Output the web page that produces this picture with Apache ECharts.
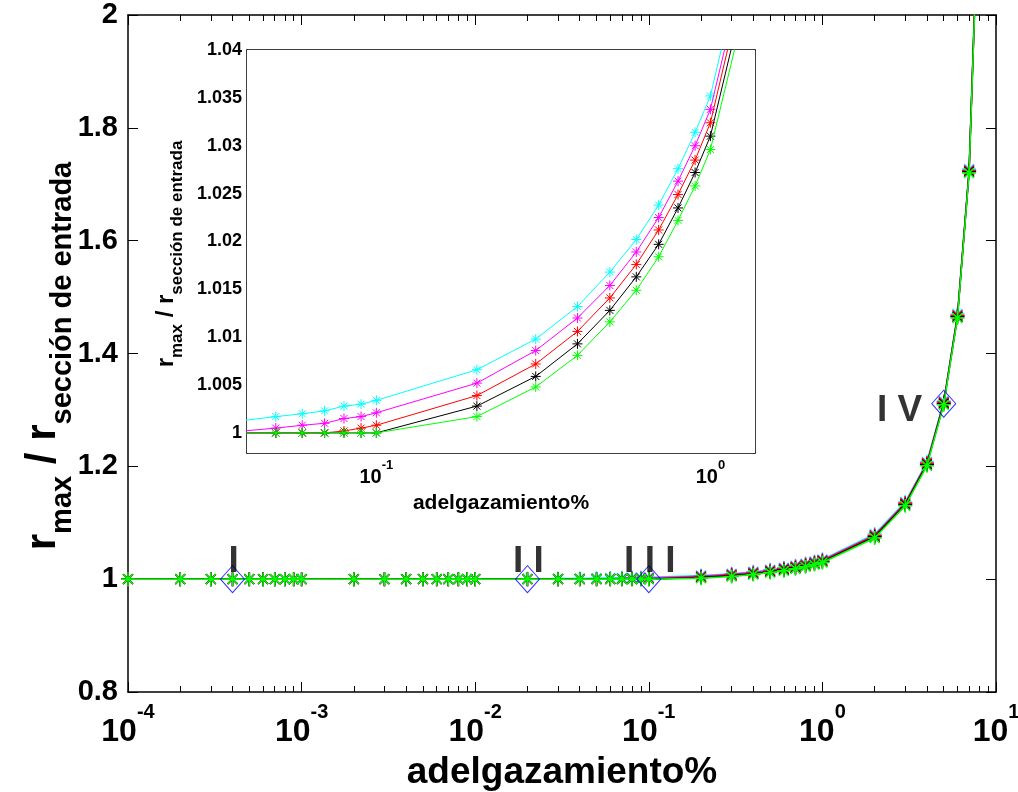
<!DOCTYPE html>
<html>
<head>
<meta charset="utf-8">
<script src="https://cdn.jsdelivr.net/npm/echarts@6/dist/echarts.min.js"></script>
<style>
  html, body { margin: 0; padding: 0; background: #fff; }
  #chart { width: 1018px; height: 792px; }
</style>
</head>
<body>
<div id="chart"></div>
<script>
// adelgazamiento (%) sample points
const xValues = [
  0.0001, 0.0002, 0.0003, 0.0004, 0.0005, 0.0006, 0.0007, 0.0008, 0.0009,
  0.001, 0.002, 0.003, 0.004, 0.005, 0.006, 0.007, 0.008, 0.009,
  0.01, 0.02, 0.03, 0.04, 0.05, 0.06, 0.07, 0.08, 0.09,
  0.1, 0.2, 0.3, 0.4, 0.5, 0.6, 0.7, 0.8, 0.9,
  1, 2, 3, 4, 5, 6, 7, 8
];

// r_max / r_entrada for each of the five cases
const cyanValues = [
  1.0000, 1.0000, 1.0000, 1.0000, 1.0000, 1.0000, 1.0000, 1.0000, 1.0000,
  1.0000, 1.0001, 1.0001, 1.0001, 1.0002, 1.0002, 1.0002, 1.0003, 1.0003,
  1.0003, 1.0007, 1.0010, 1.0013, 1.0017, 1.0020, 1.0023, 1.0028, 1.0030,
  1.0034, 1.0066, 1.0098, 1.0132, 1.0168, 1.0202, 1.0238, 1.0276, 1.0314,
  1.0352, 1.080, 1.137, 1.208, 1.316, 1.470, 1.727, 2.26
];
const magentaValues = [
  1.0000, 1.0000, 1.0000, 1.0000, 1.0000, 1.0000, 1.0000, 1.0000, 1.0000,
  1.0000, 1.0000, 1.0000, 1.0000, 1.0000, 1.0000, 1.0000, 1.0000, 1.0000,
  1.0000, 1.0000, 1.0000, 1.0002, 1.0005, 1.0008, 1.0010, 1.0015, 1.0017,
  1.0021, 1.0052, 1.0086, 1.0120, 1.0154, 1.0189, 1.0225, 1.0263, 1.0300,
  1.0338, 1.078, 1.135, 1.206, 1.314, 1.468, 1.725, 2.255
];
const redValues = [
  1.0000, 1.0000, 1.0000, 1.0000, 1.0000, 1.0000, 1.0000, 1.0000, 1.0000,
  1.0000, 1.0000, 1.0000, 1.0000, 1.0000, 1.0000, 1.0000, 1.0000, 1.0000,
  1.0000, 1.0000, 1.0000, 1.0000, 1.0000, 1.0000, 1.0000, 1.0002, 1.0005,
  1.0008, 1.0039, 1.0072, 1.0106, 1.0141, 1.0176, 1.0212, 1.0249, 1.0285,
  1.0324, 1.077, 1.134, 1.205, 1.313, 1.467, 1.724, 2.25
];
const blackValues = [
  1.0000, 1.0000, 1.0000, 1.0000, 1.0000, 1.0000, 1.0000, 1.0000, 1.0000,
  1.0000, 1.0000, 1.0000, 1.0000, 1.0000, 1.0000, 1.0000, 1.0000, 1.0000,
  1.0000, 1.0000, 1.0000, 1.0000, 1.0000, 1.0000, 1.0000, 1.0000, 1.0000,
  1.0000, 1.0028, 1.0059, 1.0093, 1.0128, 1.0163, 1.0197, 1.0235, 1.0272,
  1.0310, 1.075, 1.132, 1.203, 1.311, 1.465, 1.722, 2.245
];
const greenValues = [
  1.0000, 1.0000, 1.0000, 1.0000, 1.0000, 1.0000, 1.0000, 1.0000, 1.0000,
  1.0000, 1.0000, 1.0000, 1.0000, 1.0000, 1.0000, 1.0000, 1.0000, 1.0000,
  1.0000, 1.0000, 1.0000, 1.0000, 1.0000, 1.0000, 1.0000, 1.0000, 1.0000,
  1.0000, 1.0017, 1.0048, 1.0081, 1.0116, 1.0149, 1.0184, 1.0222, 1.0258,
  1.0296, 1.073, 1.130, 1.201, 1.309, 1.463, 1.720, 2.24
];

// highlighted regimes
const regimeX = [0.0004, 0.02, 0.1, 5];
const regimeY = [1.0, 1.0, 1.0, 1.311];
const regimeLabels = ['I', 'I I', 'I I I', 'I V'];

// axis ticks
const mainXTicks = [1e-4, 1e-3, 1e-2, 1e-1, 1, 10];
const mainXMinorTicks = [
  2e-4, 3e-4, 4e-4, 5e-4, 6e-4, 7e-4, 8e-4, 9e-4,
  2e-3, 3e-3, 4e-3, 5e-3, 6e-3, 7e-3, 8e-3, 9e-3,
  2e-2, 3e-2, 4e-2, 5e-2, 6e-2, 7e-2, 8e-2, 9e-2,
  0.2, 0.3, 0.4, 0.5, 0.6, 0.7, 0.8, 0.9,
  2, 3, 4, 5, 6, 7, 8, 9
];
const mainYTicks = [0.8, 1, 1.2, 1.4, 1.6, 1.8, 2];
const mainYTickLabels = ['0.8', '1', '1.2', '1.4', '1.6', '1.8', '2'];
const insetXTicks = [0.1, 1];
const insetXMinorTicks = [0.05, 0.06, 0.07, 0.08, 0.09, 0.2, 0.3, 0.4, 0.5, 0.6, 0.7, 0.8, 0.9];
const insetYTicks = [1, 1.005, 1.01, 1.015, 1.02, 1.025, 1.03, 1.035, 1.04];
const insetYTickLabels = ['1', '1.005', '1.01', '1.015', '1.02', '1.025', '1.03', '1.035', '1.04'];

const FONT = '"Liberation Sans", Helvetica, Arial, sans-serif';
const seriesColors = ['#00ffff', '#ff00ff', '#ff0000', '#000000', '#00ff00'];
const seriesValues = [cyanValues, magentaValues, redValues, blackValues, greenValues];

// asterisk marker outline (stroked, not filled)
const ASTERISK = 'path://M10 0L10 20M0 10L20 10M3 3L17 17M3 17L17 3';

function pairs(ys) { return xValues.map((x, i) => [x, ys[i]]); }

function powLabel(v) {
  const e = Math.round(Math.log10(v));
  return '{b|10}{s|' + e + '}';
}

const chart = echarts.init(document.getElementById('chart'), null, { renderer: 'canvas' });

function xAxisSet(gridIndex, min, max, majors, minors, majorLen, minorLen, lw, labelOpt, nameOpt) {
  const common = { type: 'log', logBase: 10, gridIndex, min, max, splitLine: { show: false } };
  return [
    Object.assign({}, common, {
      position: 'bottom',
      axisLine: { show: true, onZero: false, lineStyle: { color: '#000', width: lw } },
      axisTick: { show: true, inside: true, length: minorLen, customValues: minors, lineStyle: { color: '#000', width: 1 } },
      axisLabel: labelOpt
    }, nameOpt),
    Object.assign({}, common, {
      position: 'bottom',
      axisLine: { show: false },
      axisTick: { show: true, inside: true, length: majorLen, customValues: majors, lineStyle: { color: '#000', width: 1 } },
      axisLabel: { show: false }
    }),
    Object.assign({}, common, {
      position: 'top',
      axisLine: { show: true, onZero: false, lineStyle: { color: '#000', width: lw } },
      axisTick: { show: true, inside: true, length: minorLen, customValues: minors, lineStyle: { color: '#000', width: 1 } },
      axisLabel: { show: false }
    }),
    Object.assign({}, common, {
      position: 'top',
      axisLine: { show: false },
      axisTick: { show: true, inside: true, length: majorLen, customValues: majors, lineStyle: { color: '#000', width: 1 } },
      axisLabel: { show: false }
    })
  ];
}

function yAxisSet(gridIndex, min, max, ticks, tickLabels, len, lw, labelOpt) {
  const common = { type: 'value', gridIndex, min, max, splitLine: { show: false } };
  return [
    Object.assign({}, common, {
      position: 'left',
      axisLine: { show: true, onZero: false, lineStyle: { color: '#000', width: lw } },
      axisTick: { show: true, inside: true, length: len, customValues: ticks, lineStyle: { color: '#000', width: 1 } },
      axisLabel: Object.assign({
        customValues: ticks,
        formatter: v => {
          const i = ticks.findIndex(t => Math.abs(t - v) < 1e-9);
          return i >= 0 ? tickLabels[i] : '';
        }
      }, labelOpt)
    }),
    Object.assign({}, common, {
      position: 'right',
      axisLine: { show: true, onZero: false, lineStyle: { color: '#000', width: lw } },
      axisTick: { show: true, inside: true, length: len, customValues: ticks, lineStyle: { color: '#000', width: 1 } },
      axisLabel: { show: false }
    })
  ];
}

const mainX = xAxisSet(0, 1e-4, 10, mainXTicks, mainXMinorTicks, 10, 6, 1.5, {
  customValues: mainXTicks,
  formatter: powLabel,
  margin: 10,
  rich: {
    b: { fontFamily: FONT, fontWeight: 'bold', fontSize: 32, color: '#000', padding: [14, 0, 0, 0] },
    s: { fontFamily: FONT, fontWeight: 'bold', fontSize: 20, color: '#000', verticalAlign: 'top' }
  }
}, {
  name: 'adelgazamiento%',
  nameLocation: 'middle',
  nameGap: 62,
  nameTextStyle: { fontFamily: FONT, fontWeight: 'bold', fontSize: 37, color: '#000' }
});

const insetX = xAxisSet(1, 0.041, 1.36, insetXTicks, insetXMinorTicks, 5, 3, 1.5, {
  customValues: insetXTicks,
  formatter: powLabel,
  margin: 6,
  rich: {
    b: { fontFamily: FONT, fontWeight: 'bold', fontSize: 20, color: '#000', padding: [8, 0, 0, 0] },
    s: { fontFamily: FONT, fontWeight: 'bold', fontSize: 13, color: '#000', verticalAlign: 'top' }
  }
}, {
  name: 'adelgazamiento%',
  nameLocation: 'middle',
  nameGap: 40,
  nameTextStyle: { fontFamily: FONT, fontWeight: 'bold', fontSize: 21, color: '#000' }
});

const mainY = yAxisSet(0, 0.8, 2, mainYTicks, mainYTickLabels, 10, 1.5, {
  fontFamily: FONT, fontWeight: 'bold', fontSize: 29, color: '#000', margin: 10
});
const insetY = yAxisSet(1, 0.9979, 1.04, insetYTicks, insetYTickLabels, 6, 1.5, {
  fontFamily: FONT, fontWeight: 'bold', fontSize: 18, color: '#000', margin: 5
});

const series = [];
// main panel curves (grid 0)
seriesValues.forEach((ys, k) => {
  series.push({
    type: 'line',
    xAxisIndex: 0, yAxisIndex: 0,
    data: pairs(ys),
    clip: true,
    z: 10 + k,
    lineStyle: { color: seriesColors[k], width: 1.5 },
    symbol: ASTERISK,
    symbolSize: 14,
    showSymbol: true,
    itemStyle: { color: 'rgba(0,0,0,0)', borderColor: seriesColors[k], borderWidth: 1.5 },
    emphasis: { disabled: true },
    animation: false
  });
});
// regime markers with their labels
series.push({
  type: 'scatter',
  xAxisIndex: 0, yAxisIndex: 0,
  data: regimeX.map((x, i) => ({
    value: [x, regimeY[i]],
    label: i === 3
      ? { show: true, position: 'left', distance: 10, offset: [1, 7], formatter: regimeLabels[i] }
      : { show: true, position: 'top', distance: 0, offset: [1, 15], formatter: regimeLabels[i] }
  })),
  symbol: 'diamond',
  symbolSize: [24, 27],
  itemStyle: { color: 'rgba(0,0,0,0)', borderColor: '#0000ff', borderWidth: 1 },
  label: { fontFamily: FONT, fontWeight: 'bold', fontSize: 37, color: '#000' },
  z: 20,
  emphasis: { disabled: true },
  animation: false
});
// inset curves (grid 1)
seriesValues.forEach((ys, k) => {
  series.push({
    type: 'line',
    xAxisIndex: 4, yAxisIndex: 2,
    data: pairs(ys),
    clip: true,
    z: 10 + k,
    lineStyle: { color: seriesColors[k], width: 1 },
    symbol: ASTERISK,
    symbolSize: 10,
    showSymbol: true,
    itemStyle: { color: 'rgba(0,0,0,0)', borderColor: seriesColors[k], borderWidth: 1 },
    emphasis: { disabled: true },
    animation: false
  });
});

chart.setOption({
  backgroundColor: '#ffffff',
  animation: false,
  grid: [
    { left: 128, top: 15, width: 868, height: 677, containLabel: false, outerBoundsMode: 'none' },
    { left: 247, top: 50, width: 508, height: 403, containLabel: false, outerBoundsMode: 'none', show: true, backgroundColor: '#ffffff', borderWidth: 0, z: 1 }
  ],
  xAxis: mainX.concat(insetX),
  yAxis: mainY.concat(insetY),
  series: series,
  graphic: [
    {
      type: 'text',
      x: 50, y: 356,
      rotation: Math.PI / 2,
      style: {
        text: '{r|r}{sub|max}{r| / r}{sub|sección de entrada}',
        align: 'center', verticalAlign: 'middle',
        rich: {
          r: { fontFamily: FONT, fontWeight: 'bold', fontSize: 42, fill: '#000', padding: [0, 0, 13, 0] },
          sub: { fontFamily: FONT, fontWeight: 'bold', fontSize: 29, fill: '#000', verticalAlign: 'bottom' }
        }
      }
    },
    {
      type: 'text',
      x: 170, y: 254,
      rotation: Math.PI / 2,
      z: 20,
      style: {
        text: '{r|r}{sub|max}{r| / r}{sub|sección de entrada}',
        align: 'center', verticalAlign: 'middle',
        rich: {
          r: { fontFamily: FONT, fontWeight: 'bold', fontSize: 24, fill: '#000', padding: [0, 0, 7, 0] },
          sub: { fontFamily: FONT, fontWeight: 'bold', fontSize: 17, fill: '#000', verticalAlign: 'bottom' }
        }
      }
    }
  ]
});
</script>
</body>
</html>
